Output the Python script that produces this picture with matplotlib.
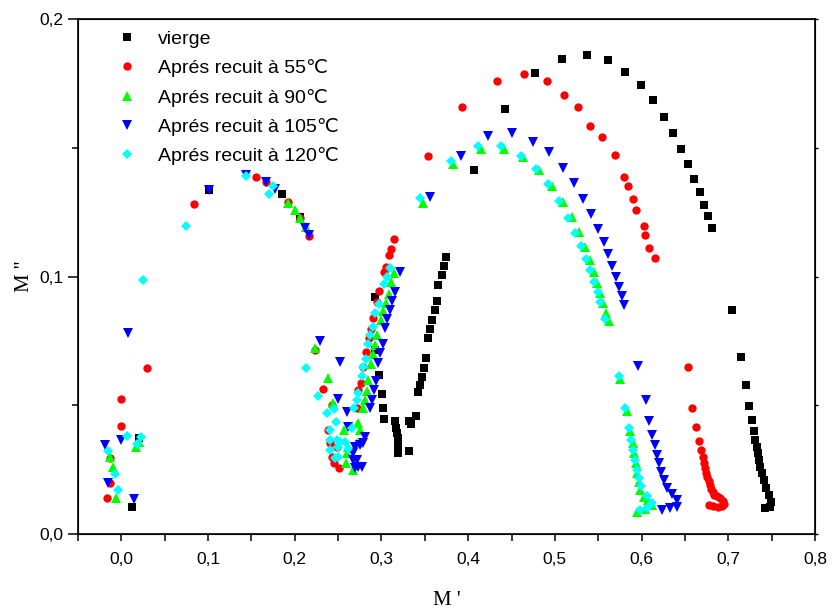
import matplotlib
matplotlib.use("Agg")
import matplotlib.pyplot as plt
from matplotlib.ticker import MultipleLocator, FuncFormatter

# ---------------- data ----------------
labels = ["vierge", "Aprés recuit à 55℃", "Aprés recuit à 90℃",
          "Aprés recuit à 105℃", "Aprés recuit à 120℃"]

vierge_x = [0.0127, 0.02, 0.1008, 0.1848, 0.2059,
            0.2928, 0.2925, 0.2975, 0.3006, 0.3021, 0.3032,
            0.316, 0.3173, 0.318, 0.3185, 0.3189, 0.3191, 0.3193,
            0.3314, 0.3321, 0.3344, 0.3398, 0.3418, 0.3445, 0.3464, 0.3487, 0.351,
            0.3537, 0.3557, 0.358, 0.3618, 0.3637, 0.3656, 0.3695, 0.3718, 0.3745,
            0.407, 0.442, 0.477, 0.508, 0.5365, 0.561, 0.581, 0.599, 0.6135, 0.626,
            0.6366, 0.6459, 0.654, 0.661, 0.667, 0.672, 0.6767, 0.681,
            0.7047, 0.7148, 0.7206, 0.724, 0.727, 0.7298, 0.7313, 0.7328, 0.734,
            0.7351, 0.7367, 0.7386, 0.7409, 0.744, 0.7467, 0.7494, 0.7486, 0.7428]
vierge_y = [0.0104, 0.0372, 0.1337, 0.1321, 0.123,
            0.0921, 0.0716, 0.0618, 0.0544, 0.049, 0.0447,
            0.044, 0.0412, 0.0391, 0.0373, 0.0354, 0.0334, 0.0314,
            0.0438, 0.0324, 0.0426, 0.0457, 0.055, 0.058, 0.0611, 0.0646, 0.0684,
            0.076, 0.0796, 0.0833, 0.0869, 0.0906, 0.0969, 0.1005, 0.1041, 0.1075,
            0.1414, 0.165, 0.179, 0.1847, 0.1862, 0.1843, 0.1795, 0.1743, 0.1685, 0.1619,
            0.1558, 0.1495, 0.1437, 0.138, 0.1329, 0.128, 0.1235, 0.119,
            0.087, 0.0689, 0.0578, 0.0498, 0.0442, 0.0399, 0.0365, 0.0339, 0.0314,
            0.0287, 0.0261, 0.0236, 0.021, 0.0177, 0.0152, 0.0125, 0.0106, 0.01]

r55_x = [0.03, -0.0008, -0.0008, -0.0127, -0.0135, -0.0162,
         0.0838, 0.1551, 0.1667, 0.1924, 0.2059, 0.2166,
         0.2229, 0.2321, 0.2424, 0.2386, 0.2405, 0.2483, 0.2424, 0.2513, 0.2452,
         0.2713, 0.2733, 0.2763, 0.279, 0.2821, 0.2856, 0.2879, 0.2902, 0.2945,
         0.2975, 0.3029, 0.3048, 0.3087, 0.3113, 0.3144,
         0.354, 0.393, 0.4337, 0.4649, 0.4908, 0.5104, 0.5266, 0.5408, 0.5543,
         0.5696, 0.5797, 0.5843, 0.59, 0.5939, 0.6023, 0.6043, 0.6089, 0.6155,
         0.6531, 0.6585, 0.6624, 0.6663, 0.6686, 0.6704,
         0.672, 0.6736, 0.6747, 0.6759, 0.6774, 0.679, 0.6805, 0.682, 0.684,
         0.6871, 0.6909, 0.694, 0.6955, 0.6928, 0.6878, 0.6825, 0.6774]
r55_y = [0.0645, 0.0526, 0.0421, 0.0295, 0.0197, 0.014,
         0.1282, 0.1386, 0.1368, 0.1291, 0.1226, 0.1158,
         0.0715, 0.0565, 0.0501, 0.0404, 0.0352, 0.0339, 0.03, 0.0258, 0.0275,
         0.0488, 0.0559, 0.0585, 0.065, 0.0706, 0.076, 0.0795, 0.084, 0.0902,
         0.0945, 0.1017, 0.1038, 0.1083, 0.1106, 0.1146,
         0.1469, 0.1658, 0.176, 0.1787, 0.176, 0.1707, 0.166, 0.1585, 0.1542,
         0.1471, 0.1387, 0.1353, 0.1303, 0.1258, 0.1198, 0.1162, 0.1112, 0.1073,
         0.0648, 0.0488, 0.0415, 0.0362, 0.0326, 0.0298,
         0.0275, 0.0255, 0.0238, 0.0223, 0.0207, 0.0192, 0.0176, 0.0163, 0.0152,
         0.0148, 0.014, 0.0127, 0.0117, 0.0108, 0.0106, 0.0108, 0.0113]

g90_x = [-0.0127, -0.0097, -0.0058, 0.0173, 0.02,
         0.1924, 0.2001, 0.2059, 0.2125,
         0.2232, 0.2386, 0.2444, 0.2567, 0.2598, 0.259, 0.2674, 0.2617, 0.2713,
         0.2733, 0.2752, 0.2783, 0.2806, 0.2829, 0.2848, 0.2879, 0.2898, 0.2928,
         0.2952, 0.299, 0.3021, 0.3052, 0.3087, 0.3113, 0.3144,
         0.3483, 0.3829, 0.4146, 0.4411, 0.4634, 0.4815, 0.4965, 0.5088, 0.5196,
         0.5273, 0.5342, 0.54, 0.545, 0.5485, 0.5517, 0.555, 0.5592, 0.5619,
         0.5754, 0.5831, 0.5869, 0.59, 0.5916, 0.5931, 0.5947, 0.5966, 0.5985,
         0.6023, 0.607, 0.612, 0.6043, 0.5947]
g90_y = [0.0298, 0.0261, 0.0141, 0.0339, 0.0359,
         0.1287, 0.1259, 0.1226, 0.1194,
         0.0721, 0.0607, 0.0508, 0.0404, 0.0314, 0.0275, 0.0249, 0.0339, 0.0352,
         0.043, 0.0404, 0.0488, 0.0521, 0.0557, 0.0598, 0.066, 0.0698, 0.0735,
         0.0773, 0.0831, 0.0865, 0.0899, 0.0932, 0.098, 0.1013,
         0.1285, 0.1438, 0.1496, 0.1496, 0.1465, 0.1413, 0.1353, 0.129, 0.123,
         0.1172, 0.1116, 0.1064, 0.1019, 0.0976, 0.0936, 0.0896, 0.086, 0.0828,
         0.0602, 0.0478, 0.0401, 0.0352, 0.0314, 0.0275, 0.0236, 0.0203, 0.0171,
         0.0145, 0.0132, 0.0113, 0.0096, 0.0087]

b105_x = [0.0077, -0.0185, -0.0008, -0.015, 0.0142,
          0.1008, 0.1443, 0.1667, 0.177, 0.2117, 0.2166,
          0.229, 0.2521, 0.2501, 0.2605, 0.2617, 0.2674, 0.2674, 0.2694, 0.2771,
          0.2694, 0.2713, 0.2732, 0.2752, 0.279, 0.2809,
          0.2864, 0.2887, 0.2913, 0.2933, 0.2963, 0.2983, 0.3014, 0.3037, 0.3063,
          0.3098, 0.3121, 0.3156, 0.3214,
          0.356, 0.3915, 0.4233, 0.451, 0.4746, 0.4934, 0.5092, 0.5223, 0.533,
          0.5416, 0.5497, 0.5561, 0.5612, 0.5662, 0.5708, 0.5739, 0.5769, 0.58,
          0.5962, 0.6046, 0.6081, 0.6124, 0.615, 0.6178, 0.6201, 0.6224, 0.6254,
          0.6293, 0.6351, 0.6409, 0.6409, 0.6331, 0.6236]
b105_y = [0.078, 0.0346, 0.0365, 0.0199, 0.0136,
          0.1337, 0.1395, 0.1368, 0.1339, 0.119, 0.1162,
          0.0751, 0.0667, 0.0523, 0.0475, 0.0417, 0.0314, 0.0287, 0.0255, 0.0261,
          0.0339, 0.0288, 0.0262, 0.0346, 0.0352, 0.0378,
          0.0488, 0.0521, 0.0559, 0.0594, 0.0663, 0.0702, 0.0738, 0.0799, 0.0835,
          0.087, 0.0905, 0.0939, 0.1017,
          0.131, 0.147, 0.1546, 0.1557, 0.1524, 0.1484, 0.1423, 0.1364, 0.13,
          0.1243, 0.1185, 0.1133, 0.1087, 0.104, 0.0997, 0.0958, 0.0923, 0.0888,
          0.0653, 0.0521, 0.044, 0.0386, 0.0345, 0.0307, 0.0275, 0.0242, 0.021,
          0.0177, 0.0155, 0.0132, 0.0106, 0.01, 0.0094]

c120_x = [-0.015, -0.0077, -0.0039, 0.0069, 0.018, 0.0231,
          0.025, 0.0751, 0.1443, 0.1744, 0.1705,
          0.2128, 0.2263, 0.2367, 0.2452, 0.2475, 0.2405, 0.2483, 0.2405, 0.2501,
          0.2405, 0.2463, 0.2501, 0.2579, 0.2521, 0.2656, 0.2617,
          0.2686, 0.2713, 0.2733, 0.2771, 0.279, 0.2818, 0.2848, 0.2867, 0.2906,
          0.2928, 0.2968, 0.3029, 0.306, 0.3098,
          0.3445, 0.3799, 0.4111, 0.4383, 0.4607, 0.4781, 0.4926, 0.5046, 0.515,
          0.5227, 0.53, 0.5358, 0.5408, 0.5454, 0.5492, 0.5523, 0.5581,
          0.5735, 0.5804, 0.585, 0.5878, 0.5905, 0.5927, 0.5947, 0.5966, 0.5993,
          0.6062, 0.612, 0.6062, 0.5985]
c120_y = [0.0324, 0.0234, 0.0172, 0.0381, 0.0348, 0.0376,
          0.0987, 0.1197, 0.1391, 0.1352, 0.1321,
          0.0645, 0.0537, 0.0469, 0.0485, 0.0436, 0.0404, 0.0365, 0.0365, 0.0339,
          0.0326, 0.0294, 0.03, 0.0359, 0.0359, 0.0411, 0.0329,
          0.0488, 0.0521, 0.0549, 0.0614, 0.0648, 0.068, 0.0737, 0.0773, 0.0805,
          0.0857, 0.0892, 0.0971, 0.1, 0.1032,
          0.1307, 0.1449, 0.1509, 0.1507, 0.1469, 0.1417, 0.1359, 0.1295, 0.1229,
          0.1171, 0.1118, 0.107, 0.1024, 0.0981, 0.094, 0.0903, 0.0836,
          0.0614, 0.0488, 0.0413, 0.0365, 0.0326, 0.0287, 0.0249, 0.0217, 0.0185,
          0.0148, 0.0119, 0.01, 0.0093]

x_ticks = [0.0, 0.1, 0.2, 0.3, 0.4, 0.5, 0.6, 0.7, 0.8]
y_ticks = [0.0, 0.1, 0.2]

# ---------------- figure ----------------
plt.rcParams['font.family'] = ['Liberation Sans', 'DejaVu Sans']

fig = plt.figure(figsize=(8.33, 6.10), dpi=100)
ax = fig.add_axes([78 / 833, 1 - 534 / 610, (815 - 78) / 833, (534 - 19.3) / 610])

series = [
    (vierge_x, vierge_y, 's', 'black', 5.4),
    (r55_x, r55_y, 'o', '#ff0000', 6.0),
    (g90_x, g90_y, '^', '#00ff00', 7.2),
    (b105_x, b105_y, 'v', '#0000ff', 7.2),
    (c120_x, c120_y, 'D', '#00ffff', 5.4),
]
for (xs, ys, mk, col, ms), lab in zip(series, labels):
    ax.plot(xs, ys, linestyle='none', marker=mk, color=col, markersize=ms,
            markeredgewidth=0, label=lab)

ax.set_xlim(-0.05, 0.8)
ax.set_ylim(0.0, 0.2)
ax.set_xticks(x_ticks)
ax.set_yticks(y_ticks)
ax.xaxis.set_minor_locator(MultipleLocator(0.05))
ax.yaxis.set_minor_locator(MultipleLocator(0.05))
fmt = FuncFormatter(lambda v, p: f"{v:.1f}".replace('.', ','))
ax.xaxis.set_major_formatter(fmt)
ax.yaxis.set_major_formatter(fmt)

ax.tick_params(axis='both', which='both', direction='out', width=1.1,
               labelsize=12.5, top=False, right=False)
ax.tick_params(axis='x', which='major', length=5, pad=8)
ax.tick_params(axis='x', which='minor', length=5)
ax.tick_params(axis='y', which='major', length=7.5, pad=3)
ax.tick_params(axis='y', which='minor', length=4.5)

for s in ax.spines.values():
    s.set_linewidth(1.2)

# short ticks on the right side
ax2 = ax.twinx()
ax2.set_ylim(0.0, 0.2)
ax2.set_yticks(y_ticks)
ax2.yaxis.set_minor_locator(MultipleLocator(0.05))
ax2.tick_params(axis='y', which='both', direction='out', length=2, width=1,
                labelright=False)

ax.set_xlabel("M '", family='Liberation Serif', fontsize=15, labelpad=17)
ax.set_ylabel("M ''", family='Liberation Serif', fontsize=15, labelpad=4)

leg = ax.legend(loc='upper left', bbox_to_anchor=(0.035, 1.005), frameon=False,
                fontsize=14, handlelength=1.0, handletextpad=1.1,
                labelspacing=0.58, borderpad=0.2, numpoints=1)

fig.savefig("out.png", dpi=100)
